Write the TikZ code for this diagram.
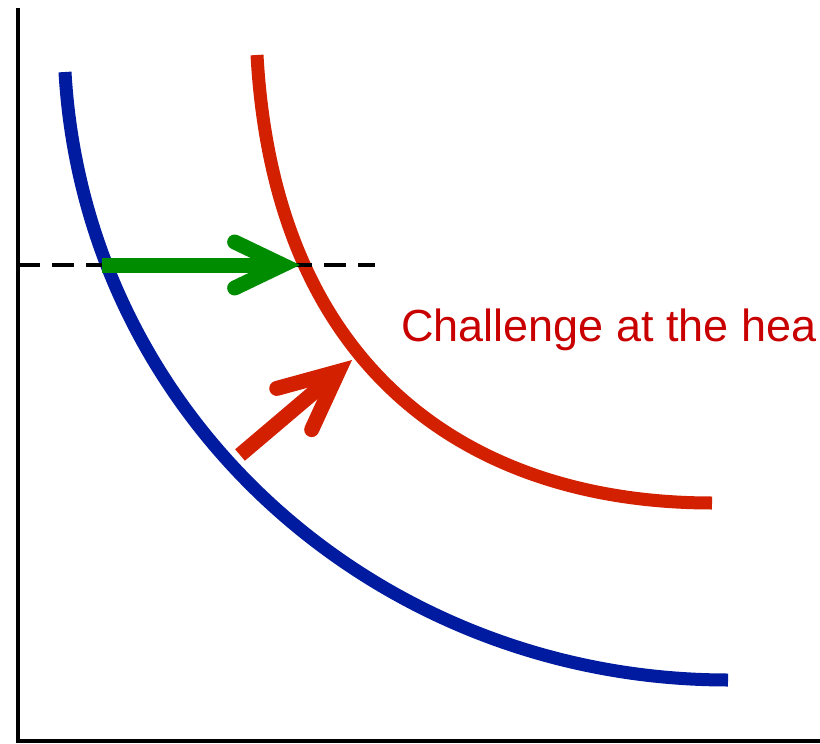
\documentclass[tikz,border=0pt]{standalone}
\usepackage{fontspec}
\setmainfont{Liberation Sans}
\usetikzlibrary{arrows.meta}
\definecolor{curveblue}{RGB}{0,26,160}
\definecolor{curvered}{RGB}{210,32,0}
\definecolor{arrowgreen}{RGB}{0,140,0}
\definecolor{textred}{RGB}{200,0,0}

\begin{document}
\begin{tikzpicture}[x=1pt,y=-1pt]
\useasboundingbox (0,0) rectangle (820,744);
\coordinate (o) at (18,741);
\coordinate (ytop) at (18,8);
\coordinate (xend) at (820,741);
\coordinate (b1) at (65,72);
\coordinate (b2) at (728,680);
\coordinate (r1) at (257,55);
\coordinate (r2) at (712,503);
\coordinate (d1) at (18,265);
\coordinate (d2) at (375,265);
\coordinate (g1) at (102,265);
\coordinate (g2) at (300,265);
\coordinate (a1) at (240,455);
\coordinate (a2) at (352,360);
\node[anchor=west,inner sep=0pt,text=textred,font=\fontsize{45}{45}\selectfont] (lbl) at (401,330) {Challenge at the hea};
\draw[line width=4.5pt] (ytop) -- (o) -- (xend);
\draw[curveblue,line width=13pt] (b1) .. controls (85,420) and (380,680) .. (b2);
\draw[curvered,line width=13pt] (r1) .. controls (275,380) and (480,503) .. (r2);
\draw[line width=4pt,dash pattern=on 22pt off 12pt] (d1) -- (d2);
\draw[arrowgreen,line width=15pt,-{Straight Barb[length=48pt,width=46pt,line cap=round,line join=miter]}] (g1) -- (g2);
\draw[curvered,line width=15pt,-{Straight Barb[length=58pt,width=54pt,line cap=round,line join=miter]}] (a1) -- (a2);
\end{tikzpicture}
\end{document}
